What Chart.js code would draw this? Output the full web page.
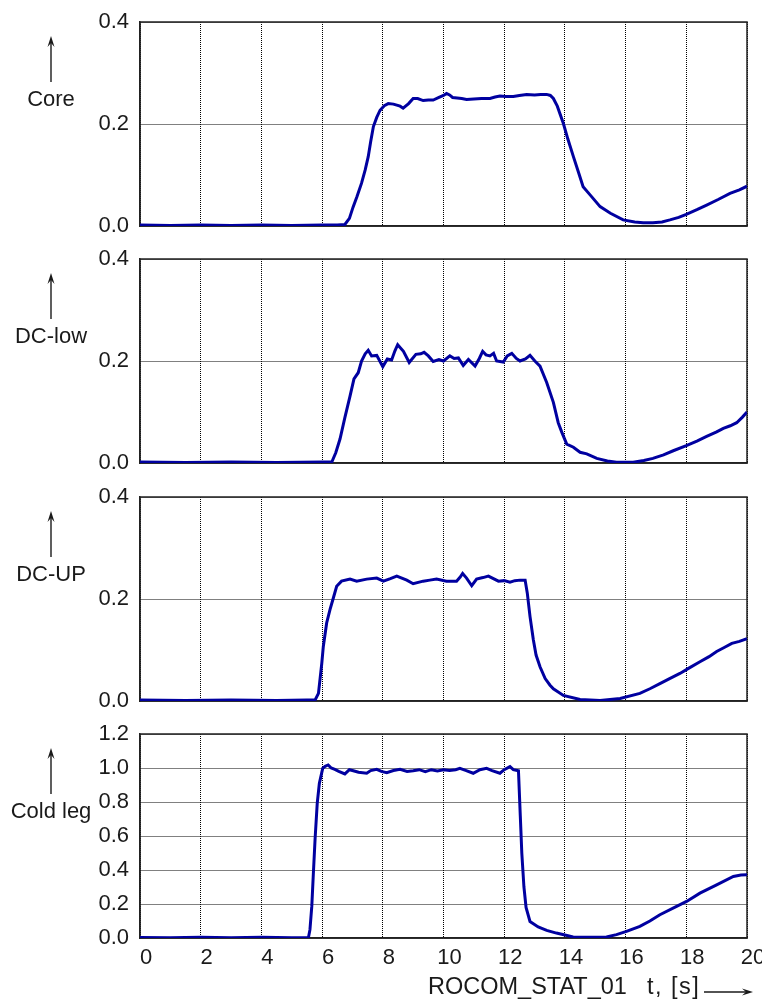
<!DOCTYPE html>
<html>
<head>
<meta charset="utf-8">
<script src="https://cdn.jsdelivr.net/npm/chart.js@4/dist/chart.umd.min.js"></script>
<style>
  body { margin: 0; background: #fff; }
  #wrap { position: relative; width: 762px; height: 1002px; overflow: hidden; }
  canvas { position: absolute; left: 0; }
</style>
</head>
<body>
<div id="wrap">
  <canvas id="c1" width="762" height="234" style="top:6px"></canvas>
  <canvas id="c2" width="762" height="234" style="top:243px"></canvas>
  <canvas id="c3" width="762" height="234" style="top:481px"></canvas>
  <canvas id="c4" width="762" height="284" style="top:718px"></canvas>
</div>
<script>
// time [s], value
const core = [[0,0.002],[1,0.001],[2,0.002],[3,0.001],[4,0.002],[5,0.001],[6,0.002],[6.5,0.002],[6.75,0.003],[6.9,0.015],
  [7.02,0.037],[7.15,0.058],[7.3,0.084],[7.42,0.11],[7.52,0.136],[7.6,0.165],[7.69,0.195],[7.8,0.213],[7.91,0.227],[8.05,0.236],
  [8.18,0.24],[8.35,0.239],[8.57,0.235],[8.67,0.231],[8.85,0.24],[9.0,0.25],[9.15,0.25],[9.33,0.246],[9.5,0.247],[9.66,0.247],
  [9.85,0.252],[10.0,0.256],[10.1,0.26],[10.2,0.257],[10.3,0.252],[10.45,0.251],[10.6,0.25],[10.76,0.248],[11.0,0.249],[11.25,0.25],
  [11.53,0.25],[11.7,0.253],[11.86,0.255],[12.05,0.254],[12.3,0.254],[12.5,0.256],[12.74,0.258],[13.0,0.257],[13.2,0.258],[13.4,0.258],
  [13.52,0.256],[13.62,0.25],[13.75,0.235],[13.95,0.201],[14.1,0.17],[14.28,0.136],[14.45,0.105],[14.6,0.077],[14.83,0.061],[15.16,0.038],
  [15.5,0.025],[15.92,0.012],[16.3,0.008],[16.58,0.0065],[16.9,0.0065],[17.2,0.008],[17.46,0.012],[17.75,0.017],[18.0,0.023],[18.35,0.032],
  [18.67,0.041],[19.05,0.052],[19.44,0.064],[19.75,0.071],[20,0.078]];

const dcLow = [[0,0.002],[1.5,0.001],[3,0.002],[4.5,0.001],[6,0.002],[6.32,0.002],[6.45,0.02],[6.59,0.047],[6.75,0.089],[6.92,0.131],
  [7.05,0.165],[7.19,0.177],[7.3,0.2],[7.42,0.214],[7.52,0.221],[7.63,0.21],[7.8,0.211],[7.9,0.2],[8.0,0.189],[8.15,0.204],
  [8.29,0.202],[8.4,0.22],[8.49,0.232],[8.68,0.219],[8.87,0.197],[9.09,0.213],[9.25,0.214],[9.36,0.217],[9.5,0.21],[9.66,0.199],
  [9.85,0.203],[10.0,0.2],[10.21,0.21],[10.35,0.205],[10.49,0.206],[10.65,0.191],[10.82,0.203],[11.04,0.19],[11.18,0.205],[11.29,0.219],
  [11.4,0.212],[11.53,0.21],[11.65,0.215],[11.75,0.2],[11.97,0.198],[12.1,0.21],[12.25,0.215],[12.4,0.205],[12.52,0.2],[12.7,0.204],
  [12.85,0.211],[13.01,0.2],[13.18,0.19],[13.4,0.158],[13.62,0.119],[13.78,0.079],[13.9,0.06],[14.06,0.037],[14.28,0.031],[14.5,0.021],
  [14.72,0.018],[15.05,0.009],[15.4,0.004],[15.7,0.0014],[16.25,0.0014],[16.6,0.005],[16.9,0.009],[17.25,0.016],[17.57,0.024],[18.0,0.034],
  [18.35,0.043],[18.67,0.052],[19.0,0.061],[19.22,0.068],[19.45,0.073],[19.66,0.079],[19.85,0.09],[20,0.1]];

const dcUp = [[0,0.002],[1.5,0.001],[3,0.002],[4.5,0.001],[5.5,0.002],[5.77,0.002],[5.88,0.015],[5.99,0.074],[6.04,0.107],[6.15,0.153],
  [6.26,0.179],[6.37,0.202],[6.48,0.225],[6.64,0.235],[6.92,0.239],[7.14,0.235],[7.47,0.239],[7.8,0.241],[8.02,0.235],[8.25,0.24],
  [8.46,0.245],[8.79,0.237],[9.0,0.23],[9.33,0.235],[9.55,0.237],[9.77,0.239],[10.1,0.235],[10.43,0.235],[10.55,0.243],[10.63,0.25],
  [10.76,0.241],[10.93,0.226],[11.09,0.239],[11.3,0.242],[11.48,0.245],[11.81,0.235],[12.0,0.236],[12.19,0.233],[12.35,0.236],[12.52,0.237],
  [12.69,0.237],[12.76,0.212],[12.85,0.166],[12.96,0.12],[13.05,0.09],[13.18,0.067],[13.35,0.044],[13.51,0.031],[13.62,0.024],[13.95,0.011],
  [14.5,0.003],[15.16,0.001],[15.82,0.005],[16.47,0.015],[16.8,0.024],[17.13,0.034],[17.45,0.044],[17.79,0.054],[18.1,0.065],[18.45,0.077],
  [18.75,0.087],[19.0,0.097],[19.25,0.105],[19.5,0.113],[19.75,0.117],[20,0.122]];

const coldLeg = [[0,0.003],[1,0.002],[2,0.004],[3,0.002],[4,0.004],[5,0.002],[5.55,0.003],[5.6,0.049],[5.66,0.186],[5.71,0.372],
  [5.77,0.587],[5.84,0.793],[5.91,0.91],[6.02,0.998],[6.1,1.01],[6.2,1.018],[6.3,1.0],[6.42,0.992],[6.55,0.98],[6.75,0.965],
  [6.9,0.99],[7.03,0.984],[7.2,0.975],[7.47,0.969],[7.6,0.985],[7.8,0.992],[7.95,0.98],[8.13,0.972],[8.35,0.985],[8.57,0.992],
  [8.8,0.98],[9.0,0.984],[9.2,0.99],[9.4,0.978],[9.6,0.99],[9.8,0.982],[10.0,0.99],[10.2,0.985],[10.4,0.99],[10.54,0.998],
  [10.75,0.985],[10.98,0.969],[11.2,0.99],[11.42,0.998],[11.6,0.985],[11.86,0.969],[12.0,0.99],[12.19,1.008],[12.3,0.99],[12.47,0.984],
  [12.53,0.72],[12.58,0.5],[12.65,0.3],[12.72,0.18],[12.85,0.097],[13.12,0.065],[13.4,0.045],[13.72,0.029],[14.0,0.018],[14.27,0.006],
  [14.8,0.004],[15.37,0.006],[15.7,0.02],[16.03,0.039],[16.47,0.068],[16.8,0.1],[17.13,0.137],[17.68,0.186],[18.01,0.215],[18.45,0.264],
  [19.0,0.313],[19.55,0.362],[19.8,0.37],[20,0.372]];

const panelNames = ['Core', 'DC-low', 'DC-UP', 'Cold leg'];
const yMaxes = [0.4, 0.4, 0.4, 1.2];
const xTitle = 'ROCOM_STAT_01';
const xUnit = 't, [s]';

const FONT = '22px "Liberation Sans", Arial, sans-serif';
const INK = '#1a1a1a';

function arrow(ctx, x1, y1, x2, y2) {
  // line plus a slim filled head at (x2,y2)
  const ang = Math.atan2(y2 - y1, x2 - x1);
  ctx.beginPath();
  ctx.moveTo(x1, y1);
  ctx.lineTo(x2 - 4 * Math.cos(ang), y2 - 4 * Math.sin(ang));
  ctx.stroke();
  const L = 11, W = 3.5;
  const bx = x2 - L * Math.cos(ang), by = y2 - L * Math.sin(ang);
  const nx = -Math.sin(ang) * W, ny = Math.cos(ang) * W;
  ctx.beginPath();
  ctx.moveTo(x2, y2);
  ctx.lineTo(bx + nx, by + ny);
  ctx.lineTo(x2 - 7 * Math.cos(ang), y2 - 7 * Math.sin(ang));
  ctx.lineTo(bx - nx, by - ny);
  ctx.closePath();
  ctx.fill();
}

const decor = {
  id: 'decor',
  beforeDatasetsDraw(chart) {
    const a = chart.chartArea, ctx = chart.ctx;
    ctx.save();
    ctx.strokeStyle = '#222';
    ctx.lineWidth = 1.5;
    ctx.strokeRect(a.left, a.top, a.right - a.left, a.bottom - a.top);
    ctx.restore();
  },
  afterDraw(chart, args, opts) {
    const a = chart.chartArea, ctx = chart.ctx;
    ctx.save();
    ctx.strokeStyle = INK;
    ctx.fillStyle = INK;
    ctx.lineWidth = 1.4;
    arrow(ctx, 51, a.top + 60, 51, a.top + 14);
    ctx.font = FONT;
    ctx.textAlign = 'center';
    ctx.textBaseline = 'middle';
    ctx.fillText(opts.label, 51, a.top + 78);
    if (opts.last) {
      ctx.textAlign = 'left';
      ctx.font = '23.5px "Liberation Sans", Arial, sans-serif';
      ctx.fillText(xTitle, 428, a.bottom + 50);
      ctx.letterSpacing = '1.5px';
      ctx.fillText(xUnit, 647, a.bottom + 50);
      arrow(ctx, 704, a.bottom + 54, 753, a.bottom + 54);
    }
    ctx.restore();
  }
};

function makeChart(id, series, i) {
  const last = i === 3;
  return new Chart(document.getElementById(id), {
    type: 'line',
    data: {
      datasets: [{
        data: series.map(p => ({ x: p[0], y: p[1] })),
        borderColor: '#0000a0',
        borderWidth: 3,
        pointRadius: 0,
        fill: false,
        tension: 0
      }]
    },
    options: {
      responsive: false,
      animation: false,
      events: [],
      layout: { padding: { top: 16, right: 15, left: 0, bottom: 0 } },
      plugins: {
        legend: { display: false },
        tooltip: { enabled: false },
        decor: { label: panelNames[i], last: last }
      },
      scales: {
        x: {
          type: 'linear',
          min: 0, max: 20,
          ticks: { stepSize: 2, display: last, padding: 7, labelOffset: 6, color: INK, font: { family: '"Liberation Sans", Arial', size: 22 } },
          grid: { color: '#000', lineWidth: 1, drawTicks: false },
          border: { display: true, color: '#222', width: 1.5, dash: [1, 1] },
          afterFit: s => { s.height = last ? 64 : 14; s.paddingLeft = 0; s.paddingRight = 0; }
        },
        y: {
          min: 0, max: yMaxes[i],
          ticks: { stepSize: 0.2, padding: 11, color: INK, font: { family: '"Liberation Sans", Arial', size: 22 }, callback: v => v.toFixed(1) },
          grid: { color: '#000', lineWidth: 1, drawTicks: false },
          border: { display: true, color: '#222', width: 1.5, dash: [1, 1] },
          afterFit: s => { s.width = 140; s.paddingTop = 0; s.paddingBottom = 0; }
        }
      }
    },
    plugins: [decor]
  });
}

makeChart('c1', core, 0);
makeChart('c2', dcLow, 1);
makeChart('c3', dcUp, 2);
makeChart('c4', coldLeg, 3);
</script>
</body>
</html>
